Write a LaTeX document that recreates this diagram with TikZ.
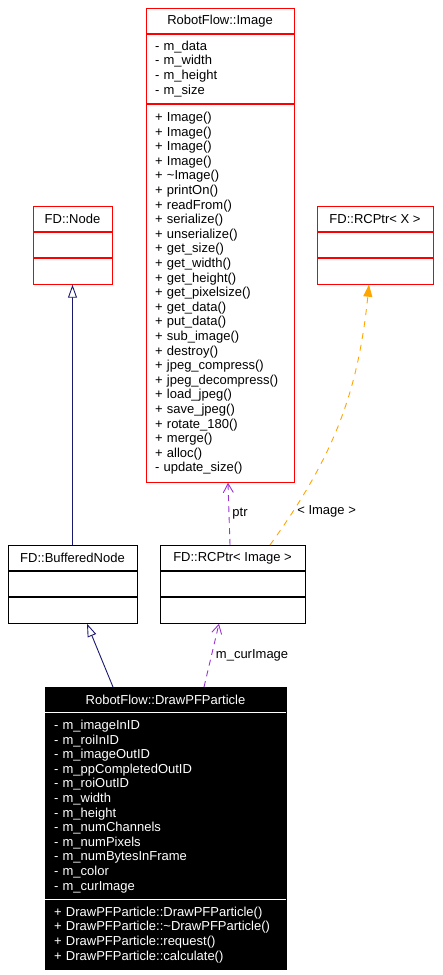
\documentclass[tikz,border=0pt]{standalone}
\usepackage{fontspec}
\setmainfont{Liberation Sans}
\usetikzlibrary{arrows.meta,positioning,calc}
\tikzset{>=Stealth}
\definecolor{inheritcolor}{RGB}{25,25,112}
\definecolor{usecolor}{RGB}{154,50,205}
\definecolor{tmplcolor}{RGB}{255,165,0}

\begin{document}
\begin{tikzpicture}[x=1pt,y=-1pt,
  every node/.style={font=\fontsize{13}{14.6}\selectfont, inner sep=0pt},
  classhead/.style={draw=#1, line width=0.9pt, minimum height=25pt},
  classpart/.style={draw=#1, line width=0.9pt, inner xsep=9pt, align=left},
  inherit/.style={draw=inheritcolor, line width=0.9pt,
    -{Triangle[open, length=13pt, width=9pt, fill=white]}},
  uses/.style={draw=usecolor, line width=0.9pt, dash pattern=on 6pt off 5pt,
    -{Straight Barb[length=9pt, width=10pt]}},
  tmpl/.style={draw=tmplcolor, line width=0.9pt, dash pattern=on 6pt off 6pt,
    -{Triangle[length=12pt, width=9pt]}}]
  \useasboundingbox (0,0) rectangle (443,975);

  % RobotFlow::Image
  \node[classhead=red, minimum width=148pt, anchor=north] (imghead) at (220,8) {RobotFlow::Image};
  \node[classpart=red, text width=130pt, minimum height=69pt, below=0pt of imghead] (imgattr)
    {- m\_data\\- m\_width\\- m\_height\\- m\_size};
  \node[classpart=red, text width=130pt, minimum height=378pt, below=0pt of imgattr] (imgops)
    {+ Image()\\+ Image()\\+ Image()\\+ Image()\\+ \textasciitilde Image()\\+ printOn()\\
     + readFrom()\\+ serialize()\\+ unserialize()\\+ get\_size()\\+ get\_width()\\
     + get\_height()\\+ get\_pixelsize()\\+ get\_data()\\+ put\_data()\\+ sub\_image()\\
     + destroy()\\+ jpeg\_compress()\\+ jpeg\_decompress()\\+ load\_jpeg()\\+ save\_jpeg()\\
     + rotate\_180()\\+ merge()\\+ alloc()\\- update\_size()};

  % FD::Node
  \node[classhead=red, minimum width=79pt, anchor=north] (nodehead) at (72.5,206) {FD::Node};
  \node[classpart=red, minimum width=79pt, minimum height=25.5pt, below=0pt of nodehead] (nodeattr) {};
  \node[classpart=red, minimum width=79pt, minimum height=25.5pt, below=0pt of nodeattr] (nodeops) {};

  % FD::RCPtr< X >
  \node[classhead=red, minimum width=116pt, anchor=north] (rcxhead) at (375,206) {FD::RCPtr< X >};
  \node[classpart=red, minimum width=116pt, minimum height=25.5pt, below=0pt of rcxhead] (rcxattr) {};
  \node[classpart=red, minimum width=116pt, minimum height=25.5pt, below=0pt of rcxattr] (rcxops) {};

  % FD::BufferedNode
  \node[classhead=black, minimum width=129pt, anchor=north] (bufhead) at (72.5,545) {FD::BufferedNode};
  \node[classpart=black, minimum width=129pt, minimum height=25.5pt, below=0pt of bufhead] (bufattr) {};
  \node[classpart=black, minimum width=129pt, minimum height=25.5pt, below=0pt of bufattr] (bufops) {};

  % FD::RCPtr< Image >
  \node[classhead=black, minimum width=145pt, anchor=north] (rcihead) at (232.5,545) {FD::RCPtr< Image >};
  \node[classpart=black, minimum width=145pt, minimum height=25.5pt, below=0pt of rcihead] (rciattr) {};
  \node[classpart=black, minimum width=145pt, minimum height=25.5pt, below=0pt of rciattr] (rciops) {};

  % RobotFlow::DrawPFParticle
  \node[classhead=black, fill=black, text=white, minimum width=241pt, anchor=north] (pfhead)
    at (165.5,687) {RobotFlow::DrawPFParticle};
  \node[classpart=black, fill=black, text=white, text width=223pt, minimum height=186pt,
    below=0pt of pfhead] (pfattr)
    {- m\_imageInID\\- m\_roiInID\\- m\_imageOutID\\- m\_ppCompletedOutID\\- m\_roiOutID\\
     - m\_width\\- m\_height\\- m\_numChannels\\- m\_numPixels\\- m\_numBytesInFrame\\
     - m\_color\\- m\_curImage};
  \node[classpart=black, fill=black, text=white, text width=223pt, minimum height=69pt,
    below=0pt of pfattr] (pfops)
    {+ DrawPFParticle::DrawPFParticle()\\+ DrawPFParticle::\textasciitilde DrawPFParticle()\\
     + DrawPFParticle::request()\\+ DrawPFParticle::calculate()};
  \draw[white, line width=0.9pt] (pfattr.north west) -- (pfattr.north east);
  \draw[white, line width=0.9pt] (pfops.north west) -- (pfops.north east);

  % connectors
  \draw[inherit] (bufhead.north) -- (nodeops.south);
  \draw[inherit] ([xshift=-52.5pt]pfhead.north) -- ([xshift=14.5pt]bufops.south);
  \draw[uses] ([xshift=38.5pt]pfhead.north) -- node[right=4pt] {m\_curImage} ([xshift=-13.5pt]rciops.south);
  \draw[uses] ([xshift=-2.5pt]rcihead.north) -- node[right=3pt] {ptr} ([xshift=8pt]imgops.south);
  \draw[tmpl] ([xshift=37.5pt]rcihead.north) to[bend right=15]
    node[pos=0.13, right=4pt] {< Image >} ([xshift=-6pt]rcxops.south);
\end{tikzpicture}
\end{document}
